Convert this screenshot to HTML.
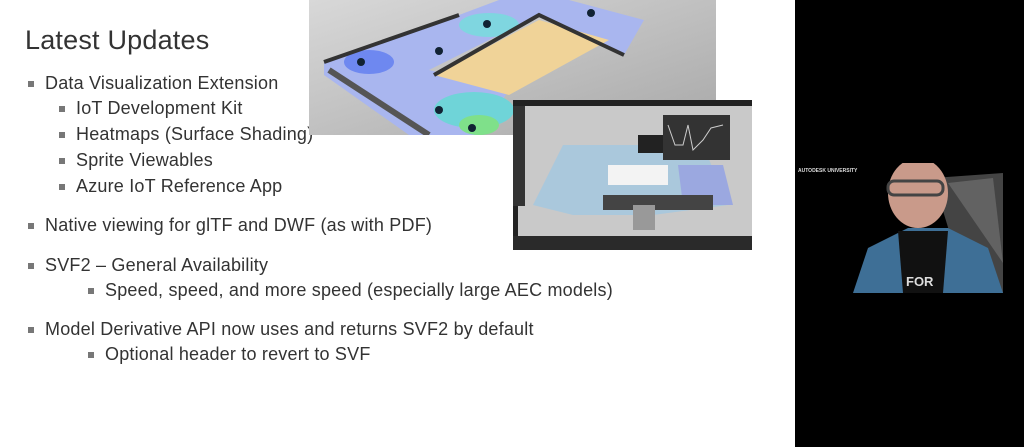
<!DOCTYPE html>
<html><head><meta charset="utf-8"><style>
body{margin:0;width:1024px;height:447px;overflow:hidden;background:#fff;position:relative;font-family:"Liberation Sans",sans-serif;color:#333}
.t{position:absolute;white-space:nowrap;font-size:18px;letter-spacing:0.2px;line-height:20px}
.t::before{content:"";position:absolute;left:-17px;top:8px;width:6px;height:6px;background:#777}
.a{position:absolute}
</style></head><body>
<div class="a" style="left:25px;top:25px;font-size:27px;color:#333;letter-spacing:0.2px">Latest Updates</div>
<div class="t" style="left:45px;top:73px">Data Visualization Extension</div>
<div class="t" style="left:76px;top:98px">IoT Development Kit</div>
<div class="t" style="left:76px;top:124px">Heatmaps (Surface Shading)</div>
<div class="t" style="left:76px;top:150px">Sprite Viewables</div>
<div class="t" style="left:76px;top:176px">Azure IoT Reference App</div>
<div class="t" style="left:45px;top:215px">Native viewing for glTF and DWF (as with PDF)</div>
<div class="t" style="left:45px;top:255px">SVF2 – General Availability</div>
<div class="t" style="left:105px;top:280px">Speed, speed, and more speed (especially large AEC models)</div>
<div class="t" style="left:45px;top:319px">Model Derivative API now uses and returns SVF2 by default</div>
<div class="t" style="left:105px;top:344px">Optional header to revert to SVF</div>

<svg class="a" style="left:309px;top:0" width="407" height="135">
<defs><linearGradient id="g1" x1="0" y1="0" x2="1" y2="1"><stop offset="0" stop-color="#d8d8d8"/><stop offset="1" stop-color="#a8a8a8"/></linearGradient></defs>
<rect width="407" height="135" fill="url(#g1)"/>
<polygon points="15,62 150,15 190,0 260,0 335,20 315,55 230,15 120,70 200,90 170,135 100,135 15,75" fill="#a9b6ef"/>
<polygon points="125,75 230,20 300,40 200,95" fill="#f0d398"/>
<ellipse cx="60" cy="62" rx="25" ry="12" fill="#6e88f0"/>
<ellipse cx="165" cy="110" rx="40" ry="18" fill="#6fd4d8"/>
<ellipse cx="170" cy="125" rx="20" ry="10" fill="#7fe08a"/>
<ellipse cx="180" cy="25" rx="30" ry="12" fill="#7fd6e0"/>
<polyline points="15,62 150,15" stroke="#333" stroke-width="4" fill="none"/>
<polyline points="125,75 230,15 315,55" stroke="#333" stroke-width="4" fill="none"/>
<polyline points="20,70 120,135" stroke="#555" stroke-width="6" fill="none"/>
<circle cx="52" cy="62" r="4" fill="#123"/><circle cx="130" cy="51" r="4" fill="#123"/><circle cx="178" cy="24" r="4" fill="#123"/><circle cx="282" cy="13" r="4" fill="#123"/><circle cx="130" cy="110" r="4" fill="#123"/><circle cx="163" cy="128" r="4" fill="#123"/>
</svg>

<svg class="a" style="left:513px;top:100px" width="239" height="150">
<rect width="239" height="150" fill="#222"/>
<rect x="5" y="6" width="234" height="130" fill="#c9c9c9"/>
<polygon points="20,105 50,45 190,45 215,105 140,115 60,115" fill="#aac8dc"/>
<polygon points="165,65 210,65 220,105 170,105" fill="#9ba8e0"/>
<rect x="95" y="65" width="60" height="20" fill="#f3f3f3"/>
<rect x="90" y="95" width="110" height="15" fill="#444"/>
<rect x="120" y="105" width="22" height="25" fill="#999"/>
<rect x="125" y="35" width="43" height="18" fill="#222"/>
<rect x="150" y="15" width="67" height="45" fill="#333"/>
<polyline points="155,25 162,45 170,45 175,25 180,50 190,40 198,28 210,25" stroke="#ccc" fill="none"/>
<rect x="0" y="6" width="12" height="100" fill="#333"/>
<rect x="0" y="136" width="239" height="14" fill="#2a2a2a"/>
</svg>

<div class="a" style="left:795px;top:0;width:229px;height:447px;background:#000"></div>
<div class="a" style="left:798px;top:168px;color:#ddd;font-size:5px;font-weight:bold">AUTODESK UNIVERSITY</div>
<svg class="a" style="left:853px;top:163px" width="150" height="130">
<polygon points="80,15 150,10 150,130 115,130" fill="#444"/>
<polygon points="95,20 140,15 150,100" fill="#777" opacity=".6"/>
<polygon points="0,130 15,85 55,65 95,65 135,85 150,130" fill="#3e6f96"/>
<polygon points="45,68 95,68 90,130 50,130" fill="#111"/>
<ellipse cx="65" cy="30" rx="30" ry="35" fill="#c99a8a"/>
<rect x="35" y="18" width="55" height="14" rx="6" fill="none" stroke="#444" stroke-width="3"/>
<text x="53" y="123" fill="#ddd" font-size="13" font-weight="bold" font-family="Liberation Sans">FOR</text>
</svg>
</body></html>
